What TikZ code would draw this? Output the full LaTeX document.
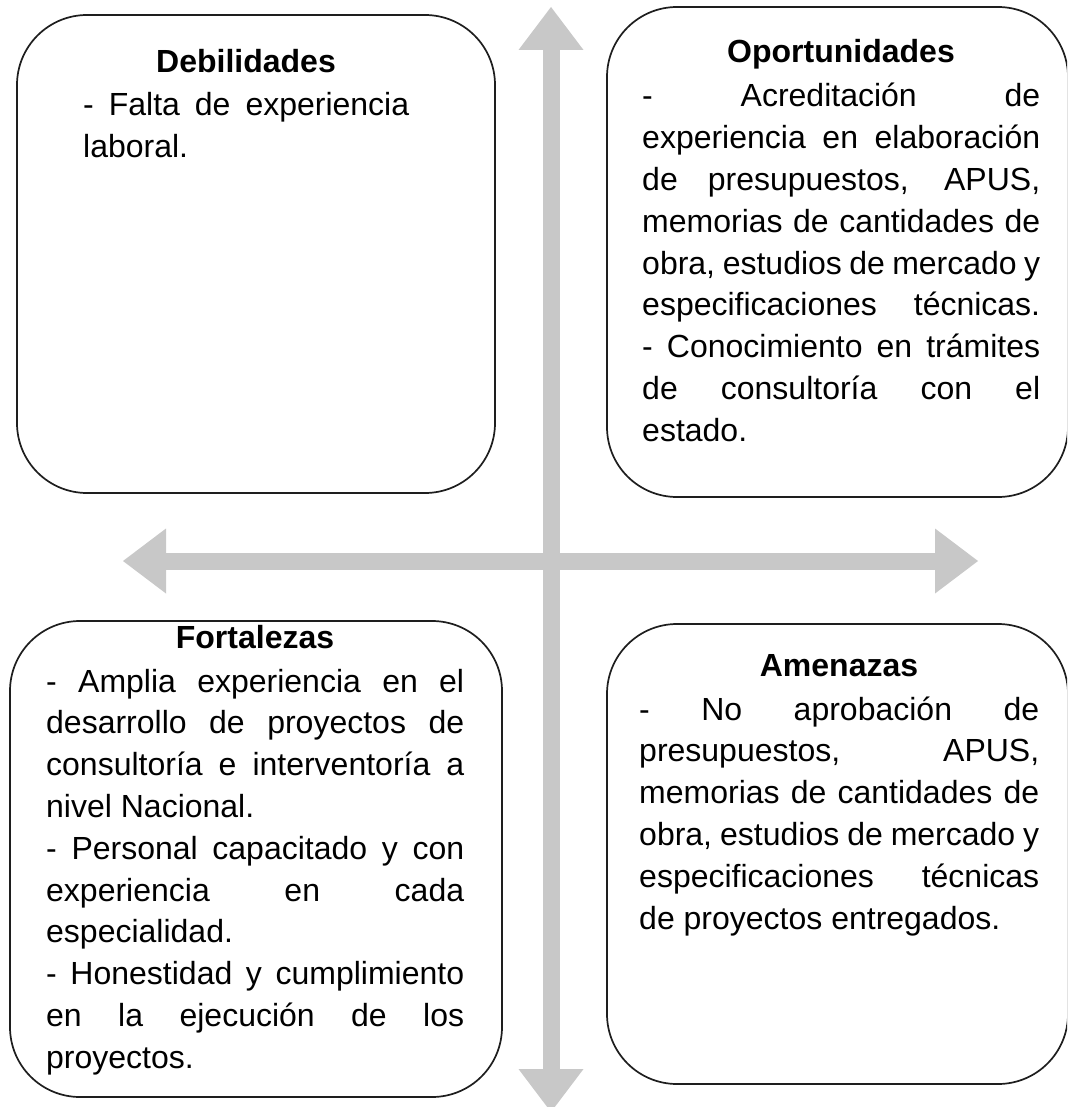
\documentclass[tikz,border=0pt]{standalone}
\usepackage{fontspec}
\setmainfont{Liberation Sans}
\usetikzlibrary{arrows.meta}
\definecolor{axisgray}{RGB}{200,200,200}
\definecolor{edgecol}{RGB}{30,30,30}
\newlength{\jw}
\newcommand{\jl}[1]{\makebox[\jw][s]{\spaceskip=0pt\xspaceskip=0pt\relax #1}}
\newcommand{\bodysetup}[1]{\setlength{\jw}{#1}\spaceskip=0pt\xspaceskip=0pt\relax}
\begin{document}
\begin{tikzpicture}[x=1pt,y=-1pt,
  panel/.style={draw=edgecol, line width=1.7pt, rounded corners=70pt, inner sep=0pt},
  axisarrow/.style={draw=axisgray, line width=17pt,
    {Triangle[length=43pt,width=65pt,line width=0pt]}-{Triangle[length=43pt,width=65pt,line width=0pt]}},
  titletext/.style={font=\fontsize{32}{41.8}\selectfont\bfseries, anchor=base, inner sep=0pt},
  bodytext/.style={font=\fontsize{32}{41.8}\selectfont, anchor=base west, inner sep=0pt, align=left}]
\useasboundingbox (0,0) rectangle (1067,1107);
\fill[white] (0,0) rectangle (1067,1107);
\clip (0,0) rectangle (1067,1107);

% axes
\coordinate (up) at (551,7);
\coordinate (down) at (551,1112);
\coordinate (lt) at (123,561);
\coordinate (rt) at (978,561);
\draw[axisarrow] (down) -- (up);
\draw[axisarrow] (lt) -- (rt);

% panels
\node[panel, minimum width=478pt, minimum height=478pt] (deb) at (256,254) {};
\node[panel, minimum width=461pt, minimum height=490pt] (opo) at (837.5,252) {};
\node[panel, minimum width=492pt, minimum height=476pt] (fort) at (256,859) {};
\node[panel, minimum width=461pt, minimum height=460pt] (amen) at (837.5,854) {};

% Debilidades
\node[titletext] (debT) at (246,73) {Debilidades};
\node[bodytext, text width=326pt] (debB) at (83,116) {\bodysetup{326pt}%
\jl{- Falta de experiencia}\\laboral.};

% Oportunidades
\node[titletext] (opoT) at (841,63) {Oportunidades};
\node[bodytext, text width=398pt] (opoB) at (642,107) {\bodysetup{398pt}%
\jl{- Acreditación de}\\
\jl{experiencia en elaboración}\\
\jl{de presupuestos, APUS,}\\
\jl{memorias de cantidades de}\\
\jl{obra, estudios de mercado y}\\
\jl{especificaciones técnicas.}\\
\jl{- Conocimiento en trámites}\\
\jl{de consultoría con el}\\
estado.};

% Fortalezas
\node[titletext] (fortT) at (255,648) {Fortalezas};
\node[bodytext, text width=418pt] (fortB) at (46,692) {\bodysetup{418pt}%
\jl{- Amplia experiencia en el}\\
\jl{desarrollo de proyectos de}\\
\jl{consultoría e interventoría a}\\
nivel Nacional.\\
\jl{- Personal capacitado y con}\\
\jl{experiencia en cada}\\
especialidad.\\
\jl{- Honestidad y cumplimiento}\\
\jl{en la ejecución de los}\\
proyectos.};

% Amenazas
\node[titletext] (amenT) at (839,676) {Amenazas};
\node[bodytext, text width=400pt] (amenB) at (639,720) {\bodysetup{400pt}%
\jl{- No aprobación de}\\
\jl{presupuestos, APUS,}\\
\jl{memorias de cantidades de}\\
\jl{obra, estudios de mercado y}\\
\jl{especificaciones técnicas}\\
de proyectos entregados.};
\end{tikzpicture}
\end{document}
